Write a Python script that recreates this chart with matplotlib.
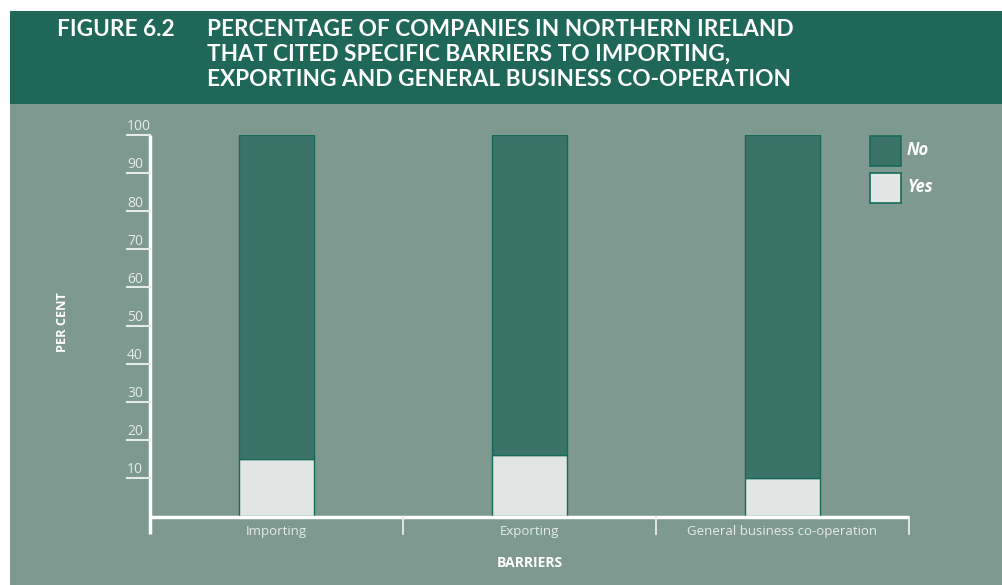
import matplotlib.pyplot as plt
from matplotlib.patches import Rectangle
from matplotlib.transforms import blended_transform_factory, offset_copy

# Data
categories = ["Importing", "Exporting", "General business co-operation"]
yes_pct = [15, 16, 10]
no_pct = [85, 84, 90]
yticks = [10, 20, 30, 40, 50, 60, 70, 80, 90, 100]

# Colours
HEADER = "#1e6759"
BG = "#7d9990"
DARK = "#3c7369"
LIGHT = "#e1e6e4"
EDGE = "#17695a"
TXT = "#e4ebe8"

W, H = 1003, 585
fig = plt.figure(figsize=(W / 100, H / 100), dpi=100, facecolor="white")

# Background panels (pixel positions converted to figure fractions)
def fig_rect(x0, y0, x1, y1, color, z=-5, **kw):
    r = Rectangle((x0 / W, 1 - y1 / H), (x1 - x0) / W, (y1 - y0) / H,
                  transform=fig.transFigure, facecolor=color, zorder=z, **kw)
    fig.patches.append(r)
    return r

fig_rect(10, 104, W, H, BG, edgecolor="none")
fig_rect(10, 11, W, 104, HEADER, edgecolor="none")

title_font = dict(family="Lato", weight="bold", size=16.3, color="white")
fig.text(57 / W, 1 - 29 / H, "FIGURE 6.2", va="center", ha="left", **title_font)
title_lines = ["PERCENTAGE OF COMPANIES IN NORTHERN IRELAND",
               "THAT CITED SPECIFIC BARRIERS TO IMPORTING,",
               "EXPORTING AND GENERAL BUSINESS CO-OPERATION"]
for i, line in enumerate(title_lines):
    fig.text(207 / W, 1 - (29 + 25.5 * i) / H, line, va="center", ha="left", **title_font)

# Plot area: x from 150 to 909 px, y=0 at 516 px, y=100 at 135 px
ax = fig.add_axes([150 / W, 1 - 516 / H, (909 - 150) / W, (516 - 135) / H])
ax.set_zorder(1)
ax.set_facecolor("none")
ax.set_xlim(-0.5, 2.5)
ax.set_ylim(0, 100)
for s in ax.spines.values():
    s.set_visible(False)
ax.set_xticks([])
ax.set_yticks([])

x = range(len(categories))
ax.bar(x, yes_pct, width=0.3, color=LIGHT, edgecolor=EDGE, linewidth=1, label="Yes", zorder=2)
ax.bar(x, no_pct, width=0.3, bottom=yes_pct, color=DARK, edgecolor=EDGE, linewidth=1,
       label="No", zorder=2)

# Axis lines
ax.plot([-0.5, -0.5], [100, -4.8], color="white", lw=2.5, clip_on=False, solid_capstyle="butt")
ax.plot([-0.5, 2.5], [-0.3, -0.3], color="white", lw=2.5, clip_on=False, solid_capstyle="butt")
for sep in [0.5, 1.5, 2.5]:
    ax.plot([sep, sep], [-0.3, -4.6], color="#e8eeeb", lw=1.3, clip_on=False)

# Y ticks: underline with the number sitting above it
ytrans = blended_transform_factory(ax.transAxes, ax.transData)
tick_x0 = -23 / (909 - 150)
for v in yticks:
    ax.plot([tick_x0, 0], [v, v], color=TXT, lw=1.5, transform=ytrans, clip_on=False)
    ax.text(tick_x0, v, str(v), transform=offset_copy(ytrans, fig=fig, x=0, y=0.5, units="points"),
            ha="left", va="bottom", family="Open Sans", size=10, color=TXT)

# Category labels
xtrans = blended_transform_factory(ax.transData, fig.transFigure)
for i, c in enumerate(categories):
    ax.text(i, 1 - 531 / H, c, transform=xtrans, ha="center", va="center",
            family="Open Sans", size=9.5, color=TXT)

fig.text(530 / W, 1 - 563 / H, "BARRIERS", ha="center", va="center",
         family="Open Sans", weight="bold", size=10, color="white")
fig.text(63 / W, 1 - 322 / H, "PER CENT", ha="center", va="center", rotation=90,
         family="Open Sans", weight="bold", size=9.2, color="white")

# Legend drawn as boxes with labels
leg_items = [("No", DARK, 136), ("Yes", LIGHT, 173)]
for name, col, top in leg_items:
    fig_rect(870, top, 901, top + 30, col, z=3, edgecolor=EDGE, linewidth=1.2)
    fig.text(907 / W, 1 - (top + 14) / H, name, ha="left", va="center",
             family="Open Sans", weight="bold", style="italic", size=12, color="white")

fig.savefig("out.png", dpi=100, facecolor=fig.get_facecolor())
